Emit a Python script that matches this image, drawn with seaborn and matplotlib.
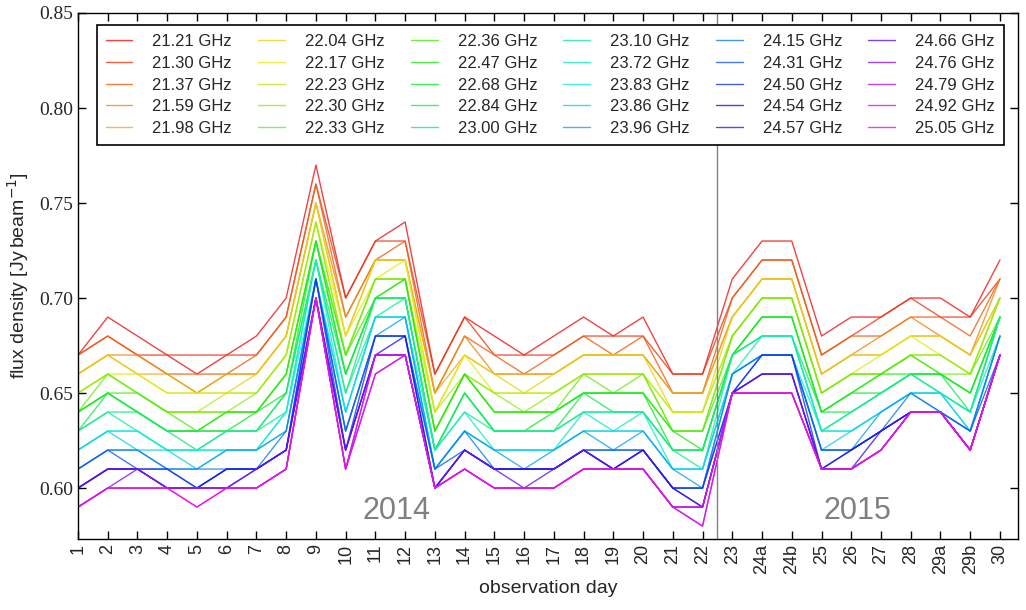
import pandas as pd
import seaborn as sns
import matplotlib.pyplot as plt

days = [str(d) for d in range(1, 23)] + ['23', '24a', '24b', '25', '26', '27', '28', '29a', '29b', '30']

freqs = ['21.21 GHz', '21.30 GHz', '21.37 GHz', '21.59 GHz', '21.98 GHz',
         '22.04 GHz', '22.17 GHz', '22.23 GHz', '22.30 GHz', '22.33 GHz',
         '22.36 GHz', '22.47 GHz', '22.68 GHz', '22.84 GHz', '23.00 GHz',
         '23.10 GHz', '23.72 GHz', '23.83 GHz', '23.86 GHz', '23.96 GHz',
         '24.15 GHz', '24.31 GHz', '24.50 GHz', '24.54 GHz', '24.57 GHz',
         '24.66 GHz', '24.76 GHz', '24.79 GHz', '24.92 GHz', '25.05 GHz']

# flux densities (Jy/beam), one list per frequency, days 1 .. 30
flux_21_21 = [0.67, 0.69, 0.68, 0.67, 0.66, 0.67, 0.68, 0.70, 0.77, 0.70, 0.73, 0.74, 0.66, 0.69, 0.68, 0.67,
              0.68, 0.69, 0.68, 0.69, 0.66, 0.66, 0.71, 0.73, 0.73, 0.68, 0.69, 0.69, 0.70, 0.70, 0.69, 0.72]
flux_21_30 = [0.67, 0.68, 0.67, 0.67, 0.67, 0.67, 0.67, 0.69, 0.76, 0.70, 0.73, 0.73, 0.66, 0.69, 0.67, 0.67,
              0.67, 0.68, 0.68, 0.68, 0.66, 0.66, 0.70, 0.72, 0.72, 0.67, 0.68, 0.69, 0.70, 0.69, 0.69, 0.71]
flux_21_37 = [0.67, 0.68, 0.67, 0.66, 0.66, 0.66, 0.67, 0.69, 0.76, 0.69, 0.72, 0.73, 0.65, 0.68, 0.67, 0.66,
              0.67, 0.68, 0.67, 0.68, 0.65, 0.65, 0.70, 0.72, 0.72, 0.67, 0.68, 0.68, 0.69, 0.69, 0.68, 0.71]
flux_21_59 = [0.66, 0.67, 0.67, 0.66, 0.65, 0.66, 0.66, 0.68, 0.75, 0.69, 0.72, 0.72, 0.65, 0.68, 0.66, 0.66,
              0.66, 0.67, 0.67, 0.67, 0.65, 0.65, 0.69, 0.71, 0.71, 0.66, 0.67, 0.68, 0.69, 0.68, 0.67, 0.71]
flux_21_98 = [0.66, 0.67, 0.66, 0.66, 0.65, 0.66, 0.66, 0.68, 0.75, 0.68, 0.72, 0.72, 0.65, 0.67, 0.66, 0.66,
              0.66, 0.67, 0.67, 0.67, 0.65, 0.65, 0.69, 0.71, 0.71, 0.66, 0.67, 0.67, 0.68, 0.68, 0.67, 0.70]
flux_22_04 = [0.66, 0.67, 0.66, 0.65, 0.65, 0.65, 0.66, 0.68, 0.75, 0.68, 0.72, 0.72, 0.64, 0.67, 0.66, 0.65,
              0.66, 0.67, 0.67, 0.67, 0.64, 0.64, 0.69, 0.71, 0.71, 0.66, 0.67, 0.67, 0.68, 0.68, 0.67, 0.70]
flux_22_17 = [0.65, 0.66, 0.66, 0.65, 0.65, 0.65, 0.65, 0.67, 0.74, 0.68, 0.71, 0.72, 0.64, 0.67, 0.65, 0.65,
              0.65, 0.66, 0.66, 0.66, 0.64, 0.64, 0.68, 0.70, 0.70, 0.65, 0.66, 0.67, 0.68, 0.67, 0.66, 0.70]
flux_22_23 = [0.65, 0.66, 0.65, 0.64, 0.64, 0.65, 0.65, 0.67, 0.74, 0.67, 0.71, 0.71, 0.64, 0.66, 0.65, 0.65,
              0.65, 0.66, 0.66, 0.66, 0.64, 0.64, 0.68, 0.70, 0.70, 0.65, 0.66, 0.66, 0.67, 0.67, 0.66, 0.70]
flux_22_30 = [0.65, 0.66, 0.65, 0.64, 0.64, 0.64, 0.65, 0.67, 0.74, 0.67, 0.71, 0.71, 0.63, 0.66, 0.65, 0.64,
              0.65, 0.66, 0.66, 0.66, 0.63, 0.63, 0.68, 0.70, 0.70, 0.65, 0.66, 0.66, 0.67, 0.67, 0.66, 0.70]
flux_22_33 = [0.64, 0.66, 0.65, 0.64, 0.64, 0.64, 0.64, 0.66, 0.73, 0.67, 0.71, 0.71, 0.63, 0.66, 0.64, 0.64,
              0.64, 0.66, 0.65, 0.66, 0.63, 0.63, 0.68, 0.70, 0.70, 0.65, 0.66, 0.66, 0.67, 0.66, 0.66, 0.69]
flux_22_36 = [0.64, 0.65, 0.65, 0.64, 0.63, 0.64, 0.64, 0.66, 0.73, 0.67, 0.70, 0.71, 0.63, 0.66, 0.64, 0.64,
              0.64, 0.65, 0.65, 0.65, 0.63, 0.63, 0.67, 0.69, 0.69, 0.64, 0.65, 0.66, 0.67, 0.66, 0.65, 0.69]
flux_22_47 = [0.64, 0.65, 0.64, 0.63, 0.63, 0.64, 0.64, 0.66, 0.73, 0.66, 0.70, 0.71, 0.63, 0.66, 0.64, 0.64,
              0.64, 0.65, 0.65, 0.65, 0.63, 0.62, 0.67, 0.69, 0.69, 0.64, 0.65, 0.66, 0.66, 0.66, 0.65, 0.69]
flux_22_68 = [0.64, 0.65, 0.64, 0.63, 0.63, 0.63, 0.64, 0.65, 0.73, 0.66, 0.70, 0.70, 0.62, 0.65, 0.63, 0.63,
              0.64, 0.65, 0.65, 0.65, 0.62, 0.62, 0.67, 0.69, 0.69, 0.64, 0.65, 0.65, 0.66, 0.66, 0.65, 0.69]
flux_22_84 = [0.63, 0.65, 0.64, 0.63, 0.63, 0.63, 0.63, 0.65, 0.72, 0.66, 0.70, 0.70, 0.62, 0.65, 0.63, 0.63,
              0.63, 0.65, 0.64, 0.64, 0.62, 0.62, 0.67, 0.68, 0.68, 0.64, 0.64, 0.65, 0.66, 0.66, 0.64, 0.69]
flux_23_00 = [0.63, 0.64, 0.64, 0.63, 0.62, 0.63, 0.63, 0.65, 0.72, 0.65, 0.70, 0.70, 0.62, 0.65, 0.63, 0.63,
              0.63, 0.64, 0.64, 0.64, 0.62, 0.62, 0.67, 0.68, 0.68, 0.63, 0.64, 0.65, 0.66, 0.65, 0.64, 0.69]
flux_23_10 = [0.63, 0.64, 0.63, 0.62, 0.62, 0.63, 0.63, 0.64, 0.72, 0.65, 0.69, 0.70, 0.62, 0.64, 0.63, 0.63,
              0.63, 0.64, 0.64, 0.64, 0.62, 0.61, 0.67, 0.68, 0.68, 0.63, 0.64, 0.65, 0.66, 0.65, 0.64, 0.69]
flux_23_72 = [0.62, 0.63, 0.63, 0.62, 0.62, 0.62, 0.62, 0.64, 0.72, 0.64, 0.69, 0.69, 0.62, 0.64, 0.62, 0.62,
              0.62, 0.64, 0.63, 0.64, 0.61, 0.61, 0.66, 0.68, 0.68, 0.63, 0.63, 0.64, 0.65, 0.65, 0.64, 0.68]
flux_23_83 = [0.62, 0.63, 0.63, 0.62, 0.62, 0.62, 0.62, 0.64, 0.71, 0.64, 0.69, 0.69, 0.61, 0.63, 0.62, 0.62,
              0.62, 0.63, 0.63, 0.63, 0.61, 0.61, 0.66, 0.67, 0.67, 0.63, 0.63, 0.64, 0.65, 0.65, 0.63, 0.68]
flux_23_86 = [0.62, 0.63, 0.62, 0.62, 0.61, 0.62, 0.62, 0.63, 0.71, 0.64, 0.69, 0.69, 0.61, 0.63, 0.62, 0.62,
              0.62, 0.63, 0.63, 0.63, 0.61, 0.61, 0.66, 0.67, 0.67, 0.62, 0.63, 0.64, 0.65, 0.65, 0.63, 0.68]
flux_23_96 = [0.61, 0.62, 0.62, 0.61, 0.61, 0.62, 0.62, 0.63, 0.71, 0.63, 0.68, 0.69, 0.61, 0.63, 0.62, 0.61,
              0.62, 0.63, 0.62, 0.63, 0.61, 0.60, 0.66, 0.67, 0.67, 0.62, 0.62, 0.64, 0.65, 0.64, 0.63, 0.68]
flux_24_15 = [0.61, 0.62, 0.62, 0.61, 0.61, 0.61, 0.61, 0.63, 0.71, 0.63, 0.68, 0.68, 0.61, 0.63, 0.61, 0.61,
              0.61, 0.62, 0.62, 0.62, 0.60, 0.60, 0.66, 0.67, 0.67, 0.62, 0.62, 0.63, 0.65, 0.64, 0.63, 0.68]
flux_24_31 = [0.61, 0.62, 0.61, 0.61, 0.60, 0.61, 0.61, 0.62, 0.71, 0.63, 0.68, 0.68, 0.61, 0.62, 0.61, 0.61,
              0.61, 0.62, 0.62, 0.62, 0.60, 0.60, 0.65, 0.67, 0.67, 0.62, 0.62, 0.63, 0.64, 0.64, 0.63, 0.67]
flux_24_50 = [0.60, 0.61, 0.61, 0.61, 0.60, 0.61, 0.61, 0.62, 0.71, 0.62, 0.68, 0.68, 0.60, 0.62, 0.61, 0.61,
              0.61, 0.62, 0.61, 0.62, 0.60, 0.60, 0.65, 0.67, 0.67, 0.61, 0.62, 0.63, 0.64, 0.64, 0.62, 0.67]
flux_24_54 = [0.60, 0.61, 0.61, 0.60, 0.60, 0.61, 0.61, 0.62, 0.70, 0.62, 0.67, 0.68, 0.60, 0.62, 0.61, 0.61,
              0.61, 0.62, 0.61, 0.62, 0.60, 0.59, 0.65, 0.66, 0.66, 0.61, 0.62, 0.63, 0.64, 0.64, 0.62, 0.67]
flux_24_57 = [0.60, 0.61, 0.61, 0.60, 0.60, 0.60, 0.61, 0.62, 0.70, 0.62, 0.67, 0.67, 0.60, 0.62, 0.61, 0.61,
              0.61, 0.62, 0.61, 0.62, 0.60, 0.59, 0.65, 0.66, 0.66, 0.61, 0.61, 0.63, 0.64, 0.64, 0.62, 0.67]
flux_24_66 = [0.60, 0.61, 0.61, 0.60, 0.60, 0.60, 0.61, 0.62, 0.70, 0.62, 0.67, 0.67, 0.60, 0.62, 0.61, 0.60,
              0.61, 0.62, 0.61, 0.61, 0.59, 0.59, 0.65, 0.66, 0.66, 0.61, 0.61, 0.62, 0.64, 0.64, 0.62, 0.67]
flux_24_76 = [0.59, 0.60, 0.61, 0.60, 0.60, 0.60, 0.60, 0.61, 0.70, 0.61, 0.67, 0.67, 0.60, 0.61, 0.60, 0.60,
              0.60, 0.61, 0.61, 0.61, 0.59, 0.59, 0.65, 0.65, 0.65, 0.61, 0.61, 0.62, 0.64, 0.64, 0.62, 0.67]
flux_24_79 = [0.59, 0.60, 0.60, 0.60, 0.60, 0.60, 0.60, 0.61, 0.70, 0.61, 0.66, 0.67, 0.60, 0.61, 0.60, 0.60,
              0.60, 0.61, 0.61, 0.61, 0.59, 0.58, 0.65, 0.65, 0.65, 0.61, 0.61, 0.62, 0.64, 0.64, 0.62, 0.67]
flux_24_92 = [0.59, 0.60, 0.60, 0.60, 0.59, 0.60, 0.60, 0.61, 0.70, 0.61, 0.66, 0.67, 0.60, 0.61, 0.60, 0.60,
              0.60, 0.61, 0.61, 0.61, 0.59, 0.58, 0.65, 0.65, 0.65, 0.61, 0.61, 0.62, 0.64, 0.64, 0.62, 0.67]
flux_25_05 = [0.59, 0.60, 0.60, 0.60, 0.59, 0.60, 0.60, 0.61, 0.70, 0.61, 0.67, 0.67, 0.60, 0.61, 0.60, 0.60,
              0.60, 0.61, 0.61, 0.61, 0.59, 0.59, 0.65, 0.65, 0.65, 0.61, 0.61, 0.62, 0.64, 0.64, 0.62, 0.67]

flux_series = [flux_21_21, flux_21_30, flux_21_37, flux_21_59, flux_21_98,
               flux_22_04, flux_22_17, flux_22_23, flux_22_30, flux_22_33,
               flux_22_36, flux_22_47, flux_22_68, flux_22_84, flux_23_00,
               flux_23_10, flux_23_72, flux_23_83, flux_23_86, flux_23_96,
               flux_24_15, flux_24_31, flux_24_50, flux_24_54, flux_24_57,
               flux_24_66, flux_24_76, flux_24_79, flux_24_92, flux_25_05]

linhas = []
for freq, valores in zip(freqs, flux_series):
    for pos, v in enumerate(valores):
        linhas.append({'pos': pos, 'flux': v, 'freq': freq})
df = pd.DataFrame(linhas)

sns.set_style('ticks')
plt.rcParams['font.family'] = ['Liberation Sans', 'DejaVu Sans']

fig = plt.figure(figsize=(10.26, 6.10), dpi=100)
ax = fig.add_axes([0.076, 0.1164, 0.916, 0.8623])

cores = sns.color_palette('gist_rainbow', len(freqs), desat=0.85)
sns.lineplot(data=df, x='pos', y='flux', hue='freq', hue_order=freqs, palette=cores,
             linewidth=1.0, alpha=0.8, ax=ax, sort=False)

# separation between the two observing years
ax.axvline(21.5, color='grey', linewidth=1)
ax.text(10.7, 0.588, '2014', color='grey', fontsize=22, ha='center', va='center')
ax.text(26.2, 0.588, '2015', color='grey', fontsize=22, ha='center', va='center')

ax.set_xlim(0, 31.6)
ax.set_ylim(0.5732, 0.85)
ax.set_xticks(range(len(days)))
ax.set_xticklabels(days, rotation=90, fontsize=13)
ax.set_yticks([0.60, 0.65, 0.70, 0.75, 0.80, 0.85])
ax.set_yticklabels(['0.60', '0.65', '0.70', '0.75', '0.80', '0.85'], fontsize=14)
for lab in ax.get_yticklabels():
    lab.set_fontfamily('Liberation Serif')
ax.tick_params(direction='in', top=True, right=True, length=6, width=1, color='black')
for s in ax.spines.values():
    s.set_color('black')
    s.set_linewidth(1)

ax.set_xlabel('observation day', fontsize=14, labelpad=4)
ax.set_ylabel('flux density [Jy$\\,$beam$^{-1}$]', fontsize=14, labelpad=6)

handles, labels = ax.get_legend_handles_labels()
leg = ax.legend(handles, labels, ncol=6, loc='upper left', mode='expand',
                bbox_to_anchor=(0.011, 0.0, 0.983, 0.993), fontsize=12,
                handlelength=1.6, handletextpad=1.2, labelspacing=0.4,
                borderpad=0.55, fancybox=False, framealpha=1, edgecolor='black')
leg.get_frame().set_linewidth(1.2)

plt.savefig('out.png', dpi=100)
